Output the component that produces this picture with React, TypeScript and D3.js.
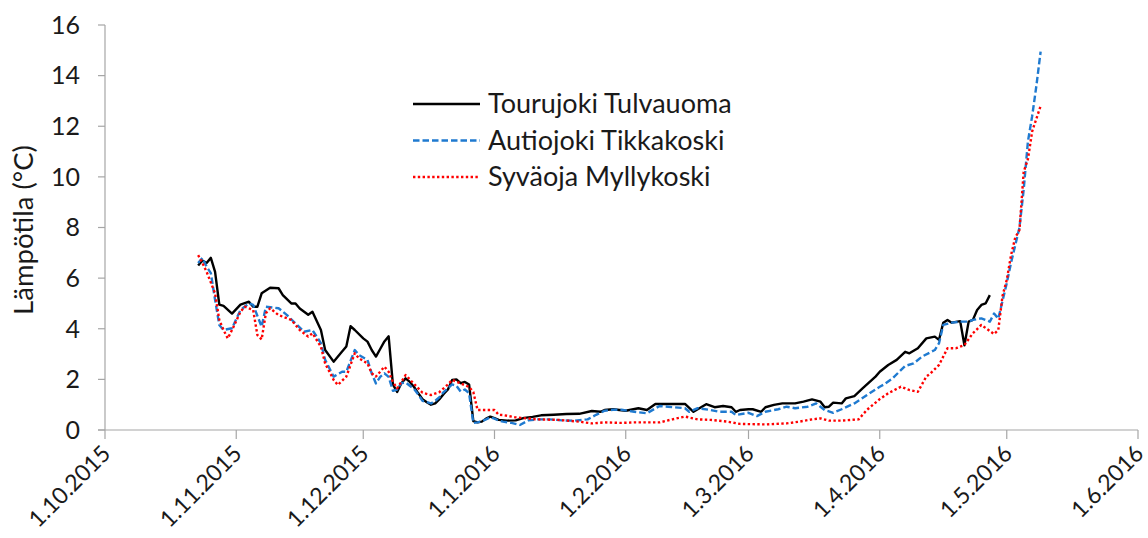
import React from 'react';
import * as d3 from 'd3';

// Daily water temperatures, [date, °C]
const tourujoki: [string, number][] = [
  ['23.10.2015', 6.5], ['24.10.2015', 6.7], ['25.10.2015', 6.6], ['26.10.2015', 6.8], ['27.10.2015', 6.25],
  ['28.10.2015', 4.95], ['29.10.2015', 4.9], ['31.10.2015', 4.6], ['2.11.2015', 4.95], ['4.11.2015', 5.07],
  ['5.11.2015', 4.87], ['6.11.2015', 4.87], ['7.11.2015', 5.4], ['9.11.2015', 5.62], ['11.11.2015', 5.6],
  ['12.11.2015', 5.33], ['14.11.2015', 5.0], ['15.11.2015', 5.0], ['16.11.2015', 4.8], ['18.11.2015', 4.55],
  ['19.11.2015', 4.67], ['21.11.2015', 3.95], ['22.11.2015', 3.16], ['24.11.2015', 2.7], ['26.11.2015', 3.1],
  ['27.11.2015', 3.3], ['28.11.2015', 4.1], ['29.11.2015', 3.95], ['1.12.2015', 3.62], ['2.12.2015', 3.49],
  ['3.12.2015', 3.16], ['4.12.2015', 2.9], ['5.12.2015', 3.2], ['6.12.2015', 3.5], ['7.12.2015', 3.7],
  ['8.12.2015', 1.8], ['9.12.2015', 1.5], ['10.12.2015', 1.85], ['11.12.2015', 2.04], ['12.12.2015', 1.9],
  ['13.12.2015', 1.7], ['14.12.2015', 1.45], ['15.12.2015', 1.22], ['16.12.2015', 1.1], ['17.12.2015', 1.0],
  ['18.12.2015', 1.05], ['19.12.2015', 1.22], ['20.12.2015', 1.42], ['21.12.2015', 1.6], ['22.12.2015', 1.98],
  ['23.12.2015', 2.0], ['24.12.2015', 1.85], ['25.12.2015', 1.9], ['26.12.2015', 1.8], ['27.12.2015', 0.35],
  ['28.12.2015', 0.3], ['29.12.2015', 0.33], ['30.12.2015', 0.45], ['31.12.2015', 0.53], ['1.1.2016', 0.47],
  ['2.1.2016', 0.4], ['4.1.2016', 0.37], ['6.1.2016', 0.38], ['8.1.2016', 0.48], ['10.1.2016', 0.52],
  ['12.1.2016', 0.58], ['15.1.2016', 0.6], ['18.1.2016', 0.63], ['21.1.2016', 0.64], ['24.1.2016', 0.75],
  ['26.1.2016', 0.72], ['27.1.2016', 0.79], ['29.1.2016', 0.82], ['1.2.2016', 0.76], ['4.2.2016', 0.86],
  ['6.2.2016', 0.79], ['8.2.2016', 1.03], ['11.2.2016', 1.03], ['15.2.2016', 1.03], ['17.2.2016', 0.72],
  ['18.2.2016', 0.82], ['20.2.2016', 1.02], ['22.2.2016', 0.9], ['24.2.2016', 0.95], ['26.2.2016', 0.9],
  ['27.2.2016', 0.72], ['28.2.2016', 0.79], ['1.3.2016', 0.82], ['2.3.2016', 0.82], ['4.3.2016', 0.72],
  ['5.3.2016', 0.9], ['7.3.2016', 0.99], ['9.3.2016', 1.05], ['11.3.2016', 1.05], ['12.3.2016', 1.05],
  ['14.3.2016', 1.12], ['16.3.2016', 1.21], ['18.3.2016', 1.12], ['19.3.2016', 0.9], ['20.3.2016', 0.92],
  ['21.3.2016', 1.08], ['23.3.2016', 1.05], ['24.3.2016', 1.25], ['26.3.2016', 1.34], ['28.3.2016', 1.65],
  ['31.3.2016', 2.11], ['1.4.2016', 2.3], ['3.4.2016', 2.57], ['5.4.2016', 2.77], ['7.4.2016', 3.09],
  ['8.4.2016', 3.03], ['10.4.2016', 3.23], ['12.4.2016', 3.62], ['14.4.2016', 3.69], ['15.4.2016', 3.56],
  ['16.4.2016', 4.24], ['17.4.2016', 4.35], ['18.4.2016', 4.24], ['20.4.2016', 4.3], ['21.4.2016', 3.35],
  ['22.4.2016', 4.28], ['23.4.2016', 4.35], ['24.4.2016', 4.74], ['25.4.2016', 4.94], ['26.4.2016', 5.0],
  ['27.4.2016', 5.33],
];

const autiojoki: [string, number][] = [
  ['23.10.2015', 6.6], ['24.10.2015', 6.8], ['25.10.2015', 6.45], ['26.10.2015', 6.2], ['27.10.2015', 5.14],
  ['28.10.2015', 4.15], ['29.10.2015', 3.95], ['31.10.2015', 4.02], ['2.11.2015', 4.74], ['4.11.2015', 5.0],
  ['5.11.2015', 4.94], ['7.11.2015', 4.08], ['8.11.2015', 4.87], ['11.11.2015', 4.81], ['13.11.2015', 4.54],
  ['15.11.2015', 4.21], ['17.11.2015', 3.88], ['19.11.2015', 3.95], ['21.11.2015', 3.43], ['22.11.2015', 2.77],
  ['24.11.2015', 2.11], ['26.11.2015', 2.3], ['27.11.2015', 2.3], ['29.11.2015', 3.16], ['30.11.2015', 2.96],
  ['2.12.2015', 2.77], ['3.12.2015', 2.24], ['4.12.2015', 1.84], ['5.12.2015', 2.1], ['6.12.2015', 2.24],
  ['7.12.2015', 2.1], ['8.12.2015', 1.55], ['9.12.2015', 1.6], ['10.12.2015', 1.85], ['11.12.2015', 1.88],
  ['12.12.2015', 1.75], ['13.12.2015', 1.62], ['14.12.2015', 1.4], ['15.12.2015', 1.15], ['16.12.2015', 1.1],
  ['17.12.2015', 1.05], ['18.12.2015', 1.15], ['19.12.2015', 1.3], ['20.12.2015', 1.5], ['21.12.2015', 1.65],
  ['22.12.2015', 1.8], ['23.12.2015', 1.75], ['24.12.2015', 1.52], ['25.12.2015', 1.6], ['26.12.2015', 1.45],
  ['27.12.2015', 0.28], ['28.12.2015', 0.3], ['29.12.2015', 0.35], ['30.12.2015', 0.42], ['31.12.2015', 0.5],
  ['1.1.2016', 0.45], ['2.1.2016', 0.37], ['3.1.2016', 0.33], ['5.1.2016', 0.28], ['7.1.2016', 0.2],
  ['9.1.2016', 0.38], ['11.1.2016', 0.42], ['14.1.2016', 0.42], ['17.1.2016', 0.38], ['20.1.2016', 0.37],
  ['23.1.2016', 0.42], ['25.1.2016', 0.6], ['27.1.2016', 0.76], ['29.1.2016', 0.8], ['31.1.2016', 0.8],
  ['3.2.2016', 0.72], ['6.2.2016', 0.66], ['9.2.2016', 0.95], ['11.2.2016', 0.92], ['15.2.2016', 0.86],
  ['16.2.2016', 0.72], ['18.2.2016', 0.86], ['21.2.2016', 0.79], ['23.2.2016', 0.72], ['26.2.2016', 0.72],
  ['27.2.2016', 0.59], ['1.3.2016', 0.68], ['3.3.2016', 0.55], ['5.3.2016', 0.72], ['8.3.2016', 0.82],
  ['10.3.2016', 0.92], ['12.3.2016', 0.86], ['15.3.2016', 0.92], ['17.3.2016', 1.05], ['19.3.2016', 0.79],
  ['21.3.2016', 0.68], ['23.3.2016', 0.82], ['26.3.2016', 1.05], ['29.3.2016', 1.38], ['1.4.2016', 1.71],
  ['2.4.2016', 1.8], ['4.4.2016', 2.04], ['7.4.2016', 2.53], ['9.4.2016', 2.63], ['11.4.2016', 2.9],
  ['14.4.2016', 3.16], ['15.4.2016', 3.43], ['16.4.2016', 4.15], ['18.4.2016', 4.24], ['20.4.2016', 4.28],
  ['22.4.2016', 4.28], ['23.4.2016', 4.35], ['25.4.2016', 4.41], ['26.4.2016', 4.35], ['27.4.2016', 4.28],
  ['28.4.2016', 4.6], ['29.4.2016', 4.4], ['30.4.2016', 5.1], ['1.5.2016', 5.8], ['2.5.2016', 6.6],
  ['3.5.2016', 7.3], ['4.5.2016', 8.0], ['5.5.2016', 9.5], ['6.5.2016', 11.4], ['7.5.2016', 12.4],
  ['8.5.2016', 13.6], ['9.5.2016', 14.95],
];

const syvaoja: [string, number][] = [
  ['23.10.2015', 6.91], ['24.10.2015', 6.6], ['25.10.2015', 6.25], ['27.10.2015', 5.4], ['28.10.2015', 4.35],
  ['29.10.2015', 3.95], ['30.10.2015', 3.62], ['31.10.2015', 3.95], ['2.11.2015', 4.67], ['3.11.2015', 4.87],
  ['5.11.2015', 4.74], ['6.11.2015', 3.75], ['7.11.2015', 3.58], ['8.11.2015', 4.61], ['9.11.2015', 4.81],
  ['11.11.2015', 4.54], ['14.11.2015', 4.35], ['16.11.2015', 3.95], ['18.11.2015', 3.69], ['19.11.2015', 3.82],
  ['21.11.2015', 3.29], ['22.11.2015', 2.63], ['24.11.2015', 1.98], ['25.11.2015', 1.78], ['27.11.2015', 2.11],
  ['29.11.2015', 3.03], ['30.11.2015', 2.83], ['2.12.2015', 2.63], ['3.12.2015', 2.24], ['4.12.2015', 2.11],
  ['6.12.2015', 2.5], ['7.12.2015', 2.3], ['8.12.2015', 1.9], ['9.12.2015', 1.65], ['10.12.2015', 1.9],
  ['11.12.2015', 2.17], ['12.12.2015', 2.0], ['13.12.2015', 1.82], ['15.12.2015', 1.47], ['17.12.2015', 1.38],
  ['19.12.2015', 1.5], ['21.12.2015', 1.8], ['22.12.2015', 1.98], ['24.12.2015', 1.84], ['26.12.2015', 1.7],
  ['27.12.2015', 1.5], ['28.12.2015', 0.79], ['30.12.2015', 0.79], ['1.1.2016', 0.79], ['2.1.2016', 0.6],
  ['3.1.2016', 0.59], ['6.1.2016', 0.5], ['11.1.2016', 0.42], ['16.1.2016', 0.4], ['21.1.2016', 0.33],
  ['24.1.2016', 0.26], ['27.1.2016', 0.3], ['31.1.2016', 0.28], ['3.2.2016', 0.3], ['9.2.2016', 0.3],
  ['12.2.2016', 0.42], ['15.2.2016', 0.53], ['18.2.2016', 0.42], ['21.2.2016', 0.4], ['25.2.2016', 0.33],
  ['28.2.2016', 0.24], ['5.3.2016', 0.22], ['10.3.2016', 0.26], ['13.3.2016', 0.33], ['16.3.2016', 0.42],
  ['18.3.2016', 0.46], ['20.3.2016', 0.37], ['23.3.2016', 0.37], ['27.3.2016', 0.42], ['29.3.2016', 0.8],
  ['1.4.2016', 1.22], ['3.4.2016', 1.45], ['6.4.2016', 1.71], ['8.4.2016', 1.58], ['10.4.2016', 1.51],
  ['12.4.2016', 2.11], ['13.4.2016', 2.24], ['15.4.2016', 2.57], ['17.4.2016', 3.23], ['19.4.2016', 3.23],
  ['21.4.2016', 3.36], ['23.4.2016', 3.82], ['25.4.2016', 4.15], ['28.4.2016', 3.79], ['29.4.2016', 3.95],
  ['30.4.2016', 5.3], ['1.5.2016', 5.93], ['2.5.2016', 6.9], ['3.5.2016', 7.6], ['4.5.2016', 7.9],
  ['5.5.2016', 10.2], ['6.5.2016', 10.7], ['7.5.2016', 11.8], ['8.5.2016', 12.3], ['9.5.2016', 12.8],
];

const seriesNames = ['Tourujoki Tulvauoma', 'Autiojoki Tikkakoski', 'Syväoja Myllykoski'];
const yTicks = [0, 2, 4, 6, 8, 10, 12, 14, 16];
const xDomain = ['1.10.2015', '1.6.2016'];

const parse = d3.timeParse('%d.%m.%Y');
const fmt = (d: Date) => `${d.getDate()}.${d.getMonth() + 1}.${d.getFullYear()}`;

const FONT = 'Lato, "Open Sans", sans-serif';

export default function App() {
  const width = 1148;
  const height = 538;
  const margin = { top: 25, right: 10, bottom: 108, left: 105 };

  const x = d3.scaleTime()
    .domain(xDomain.map(s => parse(s) as Date))
    .range([margin.left, width - margin.right]);
  const y = d3.scaleLinear()
    .domain([0, 16])
    .range([height - margin.bottom, margin.top]);

  const line = d3.line<[string, number]>()
    .x(d => x(parse(d[0]) as Date))
    .y(d => y(d[1]));

  const styles = [
    { stroke: '#000000', dash: 'none', width: 2.4 },
    { stroke: '#1f7ad0', dash: '6.5 3', width: 2.4 },
    { stroke: '#ff0000', dash: '2.4 2.4', width: 2.4 },
  ];
  const data = [tourujoki, autiojoki, syvaoja];

  const xTicks = d3.timeMonth.range(x.domain()[0], d3.timeDay.offset(x.domain()[1], 1));
  const axisColor = '#a6a6a6';
  const textColor = '#1a1a1a';
  const y0 = y(0);

  return (
    <svg width={width} height={height} style={{ position: 'absolute', left: 0, top: 0, background: '#fff' }}
      fontFamily={FONT}>
      {/* y axis */}
      <line x1={margin.left} x2={margin.left} y1={y(16)} y2={y0} stroke={axisColor} strokeWidth={1.2} />
      {yTicks.map(t => (
        <g key={t}>
          <line x1={margin.left - 7} x2={margin.left} y1={y(t)} y2={y(t)} stroke={axisColor} strokeWidth={1.2} />
          <text x={80} y={y(t)} dy="0.35em" textAnchor="end" fontSize={25} fill={textColor}>{t}</text>
        </g>
      ))}
      <text transform="translate(33,230) rotate(-90)" textAnchor="middle" fontSize={27.5} fill={textColor}>
        Lämpötila (°C)
      </text>

      {/* x axis */}
      <line x1={margin.left - 7} x2={width - margin.right} y1={y0} y2={y0} stroke={axisColor} strokeWidth={1.2} />
      {xTicks.map(t => (
        <g key={+t}>
          <line x1={x(t)} x2={x(t)} y1={y0} y2={y0 + 9} stroke={axisColor} strokeWidth={1.2} />
          <text transform={`translate(${x(t) + 7},${y0 + 25}) rotate(-45)`} textAnchor="end" fontSize={23}
            fill={textColor}>{fmt(t)}</text>
        </g>
      ))}

      {/* series */}
      {data.map((s, i) => (
        <path key={i} d={line(s) ?? ''} fill="none" stroke={styles[i].stroke} strokeWidth={styles[i].width}
          strokeDasharray={styles[i].dash} strokeLinejoin="round" />
      ))}

      {/* legend */}
      {seriesNames.map((name, i) => (
        <g key={name} transform={`translate(413,${104 + i * 36.5})`}>
          <line x1={0} x2={67} y1={0} y2={0} stroke={styles[i].stroke} strokeWidth={styles[i].width}
            strokeDasharray={styles[i].dash} />
          <text x={75} y={0} dy="0.35em" fontSize={27} fill={textColor}>{name}</text>
        </g>
      ))}
    </svg>
  );
}
